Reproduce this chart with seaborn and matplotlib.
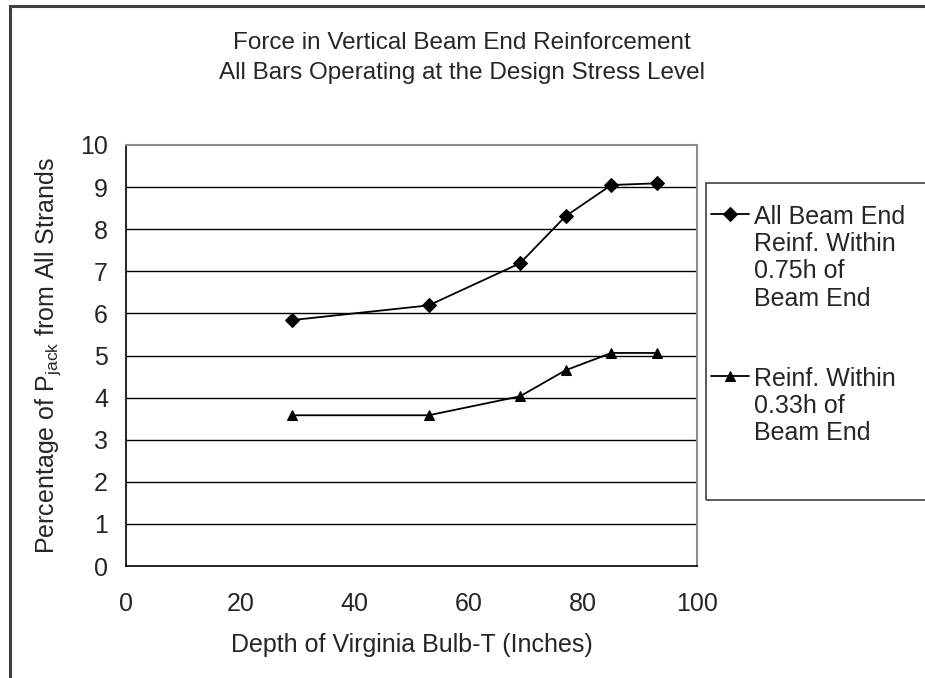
import matplotlib
matplotlib.use('Agg')
import matplotlib.pyplot as plt
from matplotlib.patches import Rectangle
import seaborn as sns
import pandas as pd

# data
depth = [29, 53, 69, 77, 85, 93]
all_reinf = [5.84, 6.19, 7.19, 8.31, 9.05, 9.09]
reinf_033 = [3.58, 3.58, 4.03, 4.65, 5.06, 5.06]
series_names = ['All Beam End\nReinf. Within\n0.75h of\nBeam End',
                'Reinf. Within\n0.33h of\nBeam End']
x_ticks = [0, 20, 40, 60, 80, 100]
y_ticks = list(range(0, 11))

df = pd.DataFrame({
    'depth': depth * 2,
    'pct': all_reinf + reinf_033,
    'series': [series_names[0]] * len(depth) + [series_names[1]] * len(depth),
})

sns.set_theme(style='white')
plt.rcParams['font.family'] = ['Liberation Sans', 'DejaVu Sans']
plt.rcParams['mathtext.fontset'] = 'custom'
plt.rcParams['mathtext.rm'] = 'Liberation Sans'
plt.rcParams['mathtext.default'] = 'regular'

FS = 18

W, H = 925, 678
fig = plt.figure(figsize=(W / 100, H / 100), dpi=100)
fig.patch.set_facecolor('white')

def fx(px):
    return px / W

def fy(py):
    return 1 - py / H

# outer chart frame (right/bottom run off the image)
fig.add_artist(Rectangle((fx(10), fy(700)), fx(940) - fx(10), fy(6) - fy(700),
                         transform=fig.transFigure, fill=False,
                         edgecolor='#404040', lw=2.2, clip_on=False))

ax = fig.add_axes([fx(126), fy(566), fx(697) - fx(126), fy(145) - fy(566)])

sns.lineplot(data=df, x='depth', y='pct', hue='series', style='series',
             markers=['D', '^'], dashes=False, palette=['black', 'black'],
             markersize=7.5, linewidth=1.3, markeredgecolor='black',
             legend=True, ax=ax, zorder=3)

ax.set_xlim(0, 100)
ax.set_ylim(0, 10)
ax.set_xticks(x_ticks)
ax.set_yticks(y_ticks)
ax.tick_params(axis='both', labelsize=FS, direction='out', length=8,
               width=1, color='black', pad=5)
ax.tick_params(axis='x', pad=11)
for y in y_ticks[1:10]:
    ax.axhline(y, color='black', lw=1, zorder=1)

for side in ['top', 'right']:
    ax.spines[side].set_color('#8c8c8c')
    ax.spines[side].set_linewidth(1.5)
for side in ['left', 'bottom']:
    ax.spines[side].set_color('black')
    ax.spines[side].set_linewidth(1.2)

ax.set_xlabel('Depth of Virginia Bulb-T (Inches)', fontsize=FS, labelpad=12)
ax.set_ylabel(r'Percentage of P$_{jack}$ from All Strands', fontsize=FS, labelpad=12)

fig.text(fx(462), fy(58), 'Force in Vertical Beam End Reinforcement\nAll Bars Operating at the Design Stress Level',
         ha='center', va='center', fontsize=17.5, linespacing=1.45)

# legend box
fig.add_artist(Rectangle((fx(706), fy(500)), fx(940) - fx(706), fy(183) - fy(500),
                         transform=fig.transFigure, fill=False,
                         edgecolor='#404040', lw=1.2, clip_on=False))
handles, labels = ax.get_legend_handles_labels()
ax.get_legend().remove()
leg = fig.legend(handles, labels, loc='upper left', bbox_to_anchor=(fx(711), fy(205)),
                 frameon=False, fontsize=FS, handlelength=1.5, handletextpad=0.2,
                 labelspacing=2.25, borderaxespad=0, borderpad=0)
for t in leg.get_texts():
    t.set_linespacing(1.17)
# put each legend marker next to the first line of its label
for col in leg._legend_handle_box.get_children():
    for item in col.get_children():
        item.align = 'top'

fig.savefig('out.png', dpi=100)
